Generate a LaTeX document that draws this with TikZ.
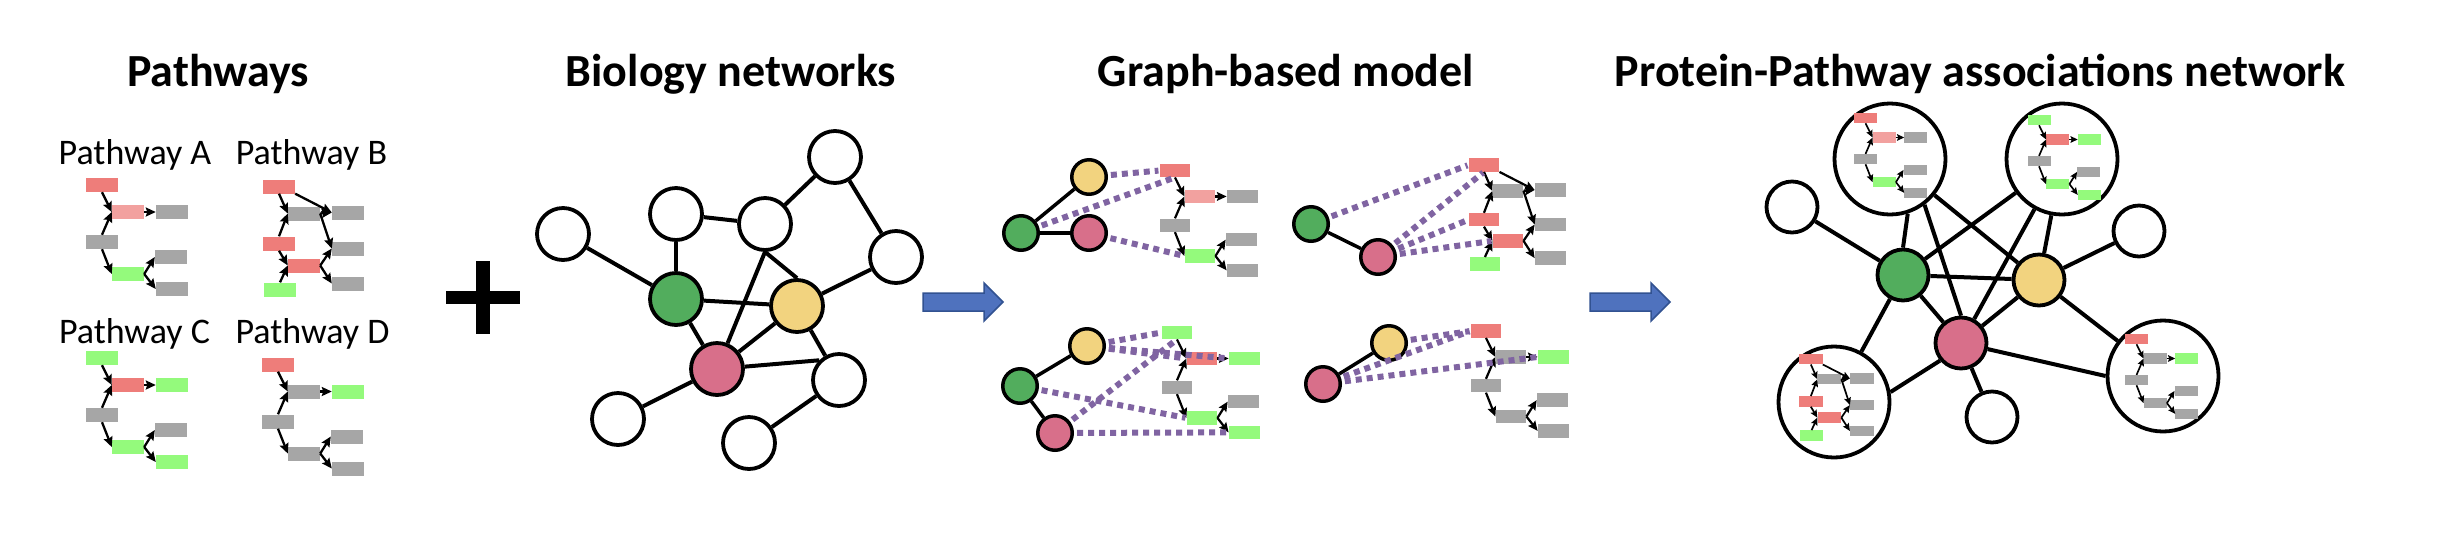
\documentclass[tikz,border=0pt]{standalone}
\usepackage{fontspec}
\setmainfont{Carlito}
\usetikzlibrary{arrows.meta,calc}
\definecolor{pwred}{RGB}{238,125,122}
\definecolor{pwpink}{RGB}{242,161,159}
\definecolor{pwgray}{RGB}{166,166,166}
\definecolor{pwgreen}{RGB}{148,250,124}
\definecolor{ndgreen}{RGB}{82,173,93}
\definecolor{ndyellow}{RGB}{242,211,127}
\definecolor{ndpink}{RGB}{216,111,138}
\definecolor{dotpurple}{RGB}{128,100,162}
\definecolor{arrfill}{RGB}{79,114,190}
\definecolor{arrdraw}{RGB}{50,82,145}
\tikzset{
  bx/.style={rectangle, minimum width=32pt, minimum height=14pt, inner sep=0pt, draw=none},
  bignode/.style={circle, draw=black, fill=white, line width=3.8pt, minimum size=52pt, inner sep=0pt},
  smallnode/.style={circle, draw=black, fill=white, line width=3.5pt, minimum size=34.5pt, inner sep=0pt},
  pcircle/.style={circle, draw=black, fill=white, line width=3.8pt, minimum size=111pt, inner sep=0pt},
  netedge/.style={line width=4pt},
  gedge/.style={line width=3.5pt},
  dots/.style={draw=dotpurple, line width=6pt, dash pattern=on 6pt off 5pt, shorten <=3pt, shorten >=1pt},
  heading/.style={font=\bfseries\fontsize{46}{50}\selectfont, anchor=base},
  pwlabel/.style={font=\fontsize{36}{40}\selectfont, anchor=base},
  bluearrow/.style={fill=arrfill, draw=arrdraw, line width=1.5pt, line join=miter}
}
\def\pwsplit#1,#2,#3,#4,#5,#6,#7,#8\relax{\def\cI{#1}\def\cII{#2}\def\cIII{#3}\def\cIV{#4}\def\cV{#5}\def\cVI{#6}\def\cVII{#7}\def\cVIII{#8}}
% template A: #1 prefix, #2 origin, #3 scale, #4 colours
\newcommand\pwtmplA[4]{%
  \pwsplit#4\relax
  \begin{scope}[shift={(#2)}, scale=#3, transform shape]
    \tikzset{pa/.style={line width=#3*2.3pt, -{Stealth[length=10pt,width=9pt,inset=1.5pt,scale=#3]}}}
    \node[bx,fill=\cI]   (#1L1) at (16,7) {};
    \node[bx,fill=\cII]  (#1M1) at (42,34) {};
    \node[bx,fill=\cIII] (#1R1) at (86,34) {};
    \node[bx,fill=\cIV]  (#1L2) at (16,64) {};
    \node[bx,fill=\cV]   (#1M2) at (42,96) {};
    \node[bx,fill=\cVI]  (#1R2) at (85,79) {};
    \node[bx,fill=\cVII] (#1R3) at (86,111) {};
    \draw[pa] (#1L1.south) -- (#1M1.west);
    \draw[pa] (#1L2.north) -- (#1M1.west);
    \draw[pa] (#1M1.east) -- (#1R1.west);
    \draw[pa] (#1L2.south) -- (#1M2.west);
    \draw[pa] (#1M2.east) -- (#1R2.west);
    \draw[pa] (#1M2.east) -- (#1R3.west);
  \end{scope}}
% template B
\newcommand\pwtmplB[4]{%
  \pwsplit#4\relax
  \begin{scope}[shift={(#2)}, scale=#3, transform shape]
    \tikzset{pa/.style={line width=#3*2.3pt, -{Stealth[length=10pt,width=9pt,inset=1.5pt,scale=#3]}}}
    \node[bx,fill=\cI]    (#1L1) at (16,7) {};
    \node[bx,fill=\cII]   (#1M1) at (41,34) {};
    \node[bx,fill=\cIII]  (#1R1) at (85,33) {};
    \node[bx,fill=\cIV]   (#1L2) at (16,64) {};
    \node[bx,fill=\cV]    (#1M2) at (41,86) {};
    \node[bx,fill=\cVI]   (#1R2) at (85,69) {};
    \node[bx,fill=\cVII]  (#1R3) at (85,104) {};
    \node[bx,fill=\cVIII] (#1L3) at (17,110) {};
    \draw[pa] (#1L1.south) -- (#1M1.west);
    \draw[pa] (#1L1.south east) -- (#1R1.west);
    \draw[pa] (#1L2.north) -- (#1M1.west);
    \draw[pa] (#1M1.east) -- (#1R1.west);
    \draw[pa] (#1M1.east) -- (#1R2.west);
    \draw[pa] (#1L2.south) -- (#1M2.west);
    \draw[pa] (#1L3.north) -- (#1M2.west);
    \draw[pa] (#1M2.east) -- (#1R2.west);
    \draw[pa] (#1M2.east) -- (#1R3.west);
  \end{scope}}
\begin{document}
\begin{tikzpicture}[x=1pt,y=-1pt]
\useasboundingbox (0,0) rectangle (2462,550);
\fill[white] (0,0) rectangle (2462,550);

% ---------- headings ----------
\node[heading] (h1) at (218,86) {Pathways};
\node[heading] (h2) at (731,86) {Biology networks};
\node[heading] (h3) at (1286,86) {Graph-based model};
\node[heading] (h4) at (1980,86) {Protein-Pathway associations network};

% ---------- pathways panel ----------
\node[pwlabel] (lA) at (135,164) {Pathway A};
\node[pwlabel] (lB) at (311.5,164) {Pathway B};
\node[pwlabel] (lC) at (134.5,343) {Pathway C};
\node[pwlabel] (lD) at (312.5,343) {Pathway D};
\pwtmplA{pA}{86,178}{1}{pwred,pwpink,pwgray,pwgray,pwgreen,pwgray,pwgray,pwgray}
\pwtmplB{pB}{263,179.5}{1}{pwred,pwgray,pwgray,pwred,pwred,pwgray,pwgray,pwgreen}
\pwtmplA{pC}{86,351}{1}{pwgreen,pwred,pwgreen,pwgray,pwgreen,pwgray,pwgreen,pwgray}
\pwtmplA{pD}{262,357.5}{1}{pwred,pwgray,pwgreen,pwgray,pwgray,pwgray,pwgray,pwgray}

% ---------- plus ----------
\fill (476,261) rectangle (490,334);
\fill (446,290.5) rectangle (520,304);

% ---------- biology network ----------
\node[bignode] (bn1) at (563,234) {};
\node[bignode] (bn2) at (676,214) {};
\node[bignode] (bn3) at (765,224) {};
\node[bignode] (bn4) at (835,157) {};
\node[bignode] (bn5) at (896,257) {};
\node[bignode,fill=ndgreen] (bG) at (676,299) {};
\node[bignode,fill=ndyellow] (bY) at (797,306) {};
\node[bignode,fill=ndpink] (bP) at (717,369) {};
\node[bignode] (bn6) at (839,380) {};
\node[bignode] (bn7) at (618,419) {};
\node[bignode] (bn8) at (749,443) {};
\draw[netedge] (bn1) -- (bG);
\draw[netedge] (bn2) -- (bG);
\draw[netedge] (bn2) -- (bn3);
\draw[netedge] (bn3) -- (bn4);
\draw[netedge] (bn4) -- (bn5);
\draw[netedge] (bn5) -- (bY);
\draw[netedge] (bn3.south) -- (bY.north);
\draw[netedge] (bn3.south) -- (bP);
\draw[netedge] (bG) -- (bY);
\draw[netedge] (bG) -- (bP);
\draw[netedge] (bY) -- (bP);
\draw[netedge] (bY) -- (bn6);
\draw[netedge] (bP) -- (bn6.135);
\draw[netedge] (bP) -- (bn7);
\draw[netedge] (bn6) -- (bn8);

% ---------- blue arrows ----------
\draw[bluearrow] (923,293) -- (984,293) -- (984,283) -- (1003,302) -- (984,321) -- (984,311) -- (923,311) -- cycle;
\draw[bluearrow] (1590,293) -- (1651,293) -- (1651,283) -- (1670,302) -- (1651,321) -- (1651,311) -- (1590,311) -- cycle;

% ---------- graph-based model ----------
% top left
\node[smallnode,fill=ndyellow] (tlY) at (1089,177) {};
\node[smallnode,fill=ndgreen] (tlG) at (1021,233) {};
\node[smallnode,fill=ndpink] (tlP) at (1089,233) {};
\draw[gedge] (tlG) -- (tlY);
\draw[gedge] (tlG) -- (tlP);
\pwtmplA{tlA}{1159.6,163.8}{0.96}{pwred,pwpink,pwgray,pwgray,pwgreen,pwgray,pwgray,pwgray}
% top right
\node[smallnode,fill=ndgreen] (trG) at (1311,224) {};
\node[smallnode,fill=ndpink] (trP) at (1378,257) {};
\draw[gedge] (trG) -- (trP);
\pwtmplB{trB}{1468.6,158.3}{0.96}{pwred,pwgray,pwgray,pwred,pwred,pwgray,pwgray,pwgreen}
% bottom left
\node[smallnode,fill=ndyellow] (blY) at (1087,346) {};
\node[smallnode,fill=ndgreen] (blG) at (1020,386) {};
\node[smallnode,fill=ndpink] (blP) at (1055,433) {};
\draw[gedge] (blG) -- (blY);
\draw[gedge] (blG) -- (blP);
\pwtmplA{blC}{1161.6,325.8}{0.96}{pwgreen,pwred,pwgreen,pwgray,pwgreen,pwgray,pwgreen,pwgray}
% bottom right
\node[smallnode,fill=ndpink] (brP) at (1323,384) {};
\node[smallnode,fill=ndyellow] (brY) at (1389,343) {};
\draw[gedge] (brP) -- (brY);
\pwtmplA{brD}{1470.6,324.3}{0.96}{pwred,pwgray,pwgreen,pwgray,pwgray,pwgray,pwgray,pwgray}
% dotted associations
\draw[dots] (tlY) -- (tlAL1.west);
\draw[dots] (tlG) -- (tlAL1.south);
\draw[dots] (tlP) -- (tlAM2.west);
\draw[dots] (trG) -- (trBL1.west);
\draw[dots] (trP) -- (trBL1.south);
\draw[dots] (trP) -- (trBL2.west);
\draw[dots] (trP) -- (trBM2.west);
\draw[dots] (blY) -- (blCL1.west);
\draw[dots] (blY) -- (blCM1.west);
\draw[dots] (blY) -- (blCR1.west);
\draw[dots] (blP) -- (blCL1.south);
\draw[dots] (blG) -- (blCM2.west);
\draw[dots] (blP) -- (blCR3.west);
\draw[dots] (brY) -- (brDL1.west);
\draw[dots] (brP) -- (brDL1.west);
\draw[dots] (brP) -- (brDR1.west);

% ---------- protein-pathway network ----------
\node[pcircle] (pTL) at (1890,159) {};
\node[pcircle] (pTR) at (2062,159) {};
\node[pcircle] (pBL) at (1834,402) {};
\node[pcircle] (pBR) at (2163,376) {};
\node[bignode,minimum size=51pt] (pW1) at (1792,207) {};
\node[bignode,minimum size=51pt] (pW2) at (1992,417) {};
\node[bignode,minimum size=51pt] (pW3) at (2139,231) {};
\node[bignode,minimum size=51pt,fill=ndgreen] (pG) at (1903,275) {};
\node[bignode,minimum size=51pt,fill=ndyellow] (pY) at (2039,280) {};
\node[bignode,minimum size=51pt,fill=ndpink] (pP) at (1961,343) {};
\draw[netedge] (pW1) -- (pG);
\draw[netedge] (pTL.-72) -- (pG.north);
\draw[netedge] (pTL) -- (pY);
\draw[netedge] (pTL.-53) -- (pP.north);
\draw[netedge] (pG) -- (pTR);
\draw[netedge] (pG) -- (pY);
\draw[netedge] (pP) -- (pTR);
\draw[netedge] (pG) -- (pP);
\draw[netedge] (pG) -- (pBL);
\draw[netedge] (pP.-140) -- (pBL.10);
\draw[netedge] (pP) -- (pY);
\draw[netedge] (pP) -- (pBR.west);
\draw[netedge] (pP) -- (pW2);
\draw[netedge] (pTR) -- (pY);
\draw[netedge] (pY) -- (pW3);
\draw[netedge] (pY) -- (pBR);
\pwtmplA{mA}{1854,113}{0.72}{pwred,pwpink,pwgray,pwgray,pwgreen,pwgray,pwgray,pwgray}
\pwtmplA{mC}{2027.5,115}{0.72}{pwgreen,pwred,pwgreen,pwgray,pwgreen,pwgray,pwgreen,pwgray}
\pwtmplB{mB}{1799,354}{0.74}{pwred,pwgray,pwgray,pwred,pwred,pwgray,pwgray,pwgreen}
\pwtmplA{mD}{2125,334}{0.72}{pwred,pwgray,pwgreen,pwgray,pwgray,pwgray,pwgray,pwgray}
\end{tikzpicture}
\end{document}
